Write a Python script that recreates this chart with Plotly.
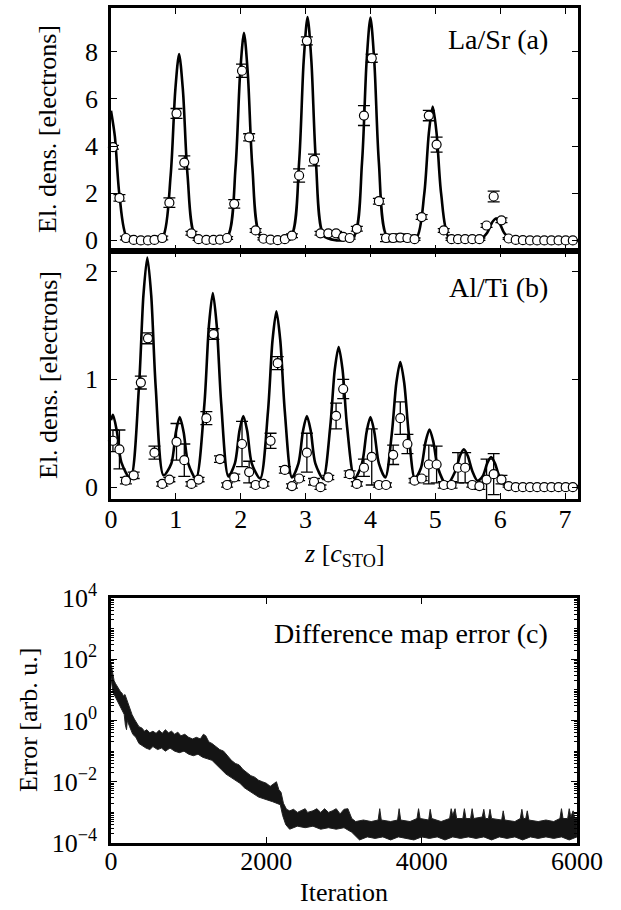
import plotly.graph_objects as go

# ---------------- data ----------------
# common z sampling grid (units of c_STO)
z_pts = [0.03, 0.13, 0.23, 0.35, 0.46, 0.57, 0.67, 0.79, 0.90, 1.01,
         1.13, 1.24, 1.35, 1.47, 1.58, 1.68, 1.79, 1.90, 2.02, 2.13,
         2.23, 2.35, 2.46, 2.57, 2.68, 2.79, 2.90, 3.02, 3.13, 3.23,
         3.35, 3.47, 3.58, 3.68, 3.79, 3.90, 4.02, 4.13, 4.24, 4.35,
         4.46, 4.57, 4.68, 4.79, 4.90, 5.02, 5.13, 5.25, 5.35, 5.46,
         5.57, 5.68, 5.79, 5.90, 6.02, 6.13, 6.24, 6.35, 6.46, 6.57,
         6.68, 6.79, 6.90, 7.01, 7.12]

# (a) La/Sr reconstructed points and error bars
la_vals = [3.95, 1.80, 0.10, 0.02, 0.00, 0.00, 0.02, 0.10, 1.60, 5.38,
           3.30, 0.30, 0.05, 0.02, 0.02, 0.03, 0.10, 1.55, 7.19, 4.37,
           0.42, 0.07, 0.03, 0.01, 0.05, 0.20, 2.75, 8.46, 3.41, 0.30,
           0.30, 0.30, 0.15, 0.10, 0.49, 5.29, 7.72, 1.66, 0.10, 0.10,
           0.12, 0.10, 0.05, 0.99, 5.29, 4.06, 0.42, 0.05, 0.05, 0.05,
           0.05, 0.05, 0.63, 1.86, 0.85, 0.08, 0.02, 0.01, 0.00, 0.00,
           0.00, 0.00, 0.00, 0.00, 0.00]
la_err = [0.08, 0.14, 0.08, 0.05, 0.05, 0.05, 0.05, 0.08, 0.20, 0.21,
          0.28, 0.08, 0.05, 0.05, 0.05, 0.05, 0.06, 0.18, 0.28, 0.15,
          0.08, 0.05, 0.05, 0.05, 0.05, 0.08, 0.28, 0.17, 0.25, 0.08,
          0.08, 0.08, 0.05, 0.05, 0.10, 0.42, 0.17, 0.12, 0.15, 0.15,
          0.15, 0.12, 0.05, 0.10, 0.22, 0.32, 0.08, 0.05, 0.05, 0.05,
          0.05, 0.05, 0.08, 0.23, 0.10, 0.04, 0.03, 0.03, 0.03, 0.03,
          0.03, 0.03, 0.03, 0.03, 0.03]

# (a) La/Sr model curve
la_curve_z = [0.00, 0.06, 0.13, 0.25, 0.45,
              0.65, 0.80, 0.92, 0.99, 1.05, 1.11, 1.18, 1.30, 1.50,
              1.60, 1.80, 1.92, 1.99, 2.05, 2.11, 2.18, 2.30, 2.50,
              2.58, 2.78, 2.90, 2.97, 3.03, 3.09, 3.16, 3.28, 3.48,
              3.55, 3.75, 3.87, 3.94, 4.00, 4.06, 4.13, 4.25, 4.45,
              4.51, 4.71, 4.83, 4.90, 4.96, 5.02, 5.09, 5.21, 5.41,
              5.48, 5.68, 5.80, 5.87, 5.93, 5.99, 6.06, 6.18, 6.38, 7.20]
la_curve_v = [5.50, 4.40, 1.93, 0.11, 0.00,
              0.00, 0.16, 2.77, 6.32, 7.90, 6.32, 2.77, 0.16, 0.00,
              0.00, 0.18, 3.08, 7.04, 8.80, 7.04, 3.08, 0.18, 0.00,
              0.00, 0.19, 3.31, 7.58, 9.47, 7.58, 3.31, 0.19, 0.00,
              0.00, 0.19, 3.30, 7.55, 9.44, 7.55, 3.30, 0.19, 0.00,
              0.00, 0.11, 1.98, 4.54, 5.67, 4.54, 1.98, 0.11, 0.00,
              0.00, 0.02, 0.32, 0.74, 0.92, 0.74, 0.32, 0.02, 0.00, 0.00]

# (b) Al/Ti reconstructed points and error bars
al_vals = [0.43, 0.35, 0.06, 0.11, 0.97, 1.38, 0.32, 0.03, 0.07, 0.42,
           0.25, 0.03, 0.07, 0.64, 1.42, 0.26, 0.02, 0.09, 0.40, 0.14,
           0.02, 0.03, 0.43, 1.15, 0.16, 0.01, 0.08, 0.32, 0.05, 0.00,
           0.09, 0.66, 0.91, 0.12, 0.03, 0.18, 0.28, 0.02, 0.02, 0.30,
           0.64, 0.40, 0.06, 0.08, 0.21, 0.21, 0.02, 0.02, 0.18, 0.18,
           0.02, 0.01, 0.07, 0.12, 0.07, 0.01, 0.00, 0.00, 0.00, 0.00,
           0.00, 0.00, 0.00, 0.00, 0.00]
al_err = [0.10, 0.18, 0.03, 0.03, 0.06, 0.05, 0.06, 0.02, 0.02, 0.17,
          0.15, 0.02, 0.02, 0.06, 0.05, 0.03, 0.02, 0.03, 0.21, 0.10,
          0.02, 0.02, 0.07, 0.06, 0.03, 0.02, 0.02, 0.18, 0.03, 0.02,
          0.02, 0.12, 0.09, 0.03, 0.02, 0.08, 0.26, 0.02, 0.02, 0.09,
          0.15, 0.09, 0.02, 0.02, 0.18, 0.17, 0.03, 0.03, 0.14, 0.14,
          0.02, 0.03, 0.19, 0.19, 0.04, 0.01, 0.01, 0.01, 0.01, 0.01,
          0.01, 0.01, 0.01, 0.01, 0.01]

# (b) Al/Ti model curve
al_curve_z = [0.00, 0.03, 0.09, 0.16, 0.30, 0.43, 0.50, 0.56, 0.62, 0.69,
              0.81, 0.93, 1.00, 1.06, 1.12, 1.19, 1.31, 1.44, 1.51, 1.57,
              1.63, 1.70, 1.81, 1.91, 1.98, 2.04, 2.10, 2.17, 2.30, 2.42,
              2.49, 2.55, 2.61, 2.68, 2.79, 2.89, 2.96, 3.02, 3.08, 3.15,
              3.27, 3.38, 3.45, 3.51, 3.57, 3.64, 3.755, 3.87, 3.94, 4.00,
              4.06, 4.13, 4.23, 4.33, 4.40, 4.46, 4.52, 4.59, 4.685, 4.78,
              4.85, 4.91, 4.97, 5.04, 5.175, 5.31, 5.38, 5.44, 5.50, 5.57,
              5.65, 5.73, 5.80, 5.86, 5.92, 5.99, 6.12, 6.30, 7.20]
al_curve_v = [0.62, 0.67, 0.52, 0.23, 0.08, 0.92, 1.78, 2.13, 1.78, 0.92,
              0.11, 0.22, 0.51, 0.65, 0.51, 0.22, 0.08, 0.77, 1.50, 1.80,
              1.50, 0.77, 0.10, 0.22, 0.52, 0.66, 0.52, 0.22, 0.08, 0.70,
              1.36, 1.63, 1.36, 0.70, 0.09, 0.22, 0.52, 0.66, 0.52, 0.22,
              0.08, 0.56, 1.09, 1.30, 1.09, 0.56, 0.08, 0.22, 0.51, 0.65,
              0.51, 0.22, 0.09, 0.50, 0.97, 1.16, 0.97, 0.50, 0.08, 0.18,
              0.42, 0.535, 0.42, 0.18, 0.02, 0.15, 0.29, 0.35, 0.29, 0.15,
              0.06, 0.10, 0.22, 0.28, 0.22, 0.10, 0.02, 0.01, 0.01]

# (c) difference-map error: upper / lower envelope of the noisy trace (log10 values)
err_up_iter = [0, 10, 25, 40, 60, 80, 100, 120, 140, 160, 180, 200, 220, 240, 270,
               300, 330, 360, 400, 430, 460, 500, 540, 580, 620, 660, 700, 740,
               780, 820, 860, 900, 950, 1000, 1050, 1100, 1150, 1190, 1220, 1260,
               1300, 1350, 1400, 1450, 1500, 1550, 1600, 1650, 1700, 1750, 1800,
               1850, 1900, 1950, 2000, 2050, 2100, 2130, 2160, 2190, 2220, 2260,
               2300, 2350, 2400, 2450, 2500, 2530, 2600, 2650, 2700, 2750, 2800,
               2850, 2900, 2950, 3000, 3050, 3100, 3150, 3250, 3350, 3440, 3460,
               3480, 3600, 3690, 3710, 3730, 3850, 3940, 3960, 3980, 4090, 4110,
               4130, 4250, 4360, 4380, 4400, 4430, 4450, 4530, 4550, 4570, 4630,
               4650, 4670, 4780, 4800, 4820, 4860, 4880, 4900, 5030, 5050, 5070,
               5200, 5270, 5290, 5310, 5340, 5360, 5380, 5500, 5600, 5700, 5780,
               5800, 5820, 5880, 5900, 5920, 5950, 5970, 6000]
err_up_log = [1.85, 1.70, 1.45, 1.30, 1.20, 1.10, 1.05, 0.95, 0.90, 0.80, 0.85, 0.70,
              0.50, 0.35, 0.20, 0.05, -0.10, -0.20, -0.25, -0.35, -0.30, -0.40,
              -0.35, -0.42, -0.32, -0.42, -0.30, -0.40, -0.35, -0.45, -0.38, -0.50,
              -0.45, -0.55, -0.60, -0.55, -0.60, -0.45, -0.50, -0.70, -0.75, -0.85,
              -0.95, -1.00, -1.15, -1.30, -1.40, -1.45, -1.60, -1.70, -1.80, -1.85,
              -1.95, -2.00, -2.05, -2.15, -2.05, -2.00, -2.25, -2.35, -2.70, -2.90,
              -2.95, -2.90, -3.00, -2.95, -2.88, -3.00, -2.95, -2.88, -3.00, -2.88,
              -3.00, -2.95, -2.88, -3.05, -2.90, -2.88, -3.20, -3.30, -3.25, -3.30,
              -3.25, -2.88, -3.25, -3.30, -3.25, -2.88, -3.25, -3.30, -3.20, -2.88,
              -3.20, -3.25, -2.90, -3.20, -3.30, -3.20, -2.88, -3.10, -2.88, -3.20,
              -3.20, -2.88, -3.20, -3.20, -2.88, -3.20, -3.15, -2.90, -3.20, -3.20,
              -2.90, -3.20, -3.25, -2.95, -3.25, -3.30, -3.20, -2.90, -3.20, -3.20,
              -2.95, -3.25, -3.30, -3.25, -3.30, -3.20, -2.88, -3.20, -3.20, -2.88,
              -3.15, -2.95, -3.20, -3.20]
err_lo_iter = [0, 15, 30, 60, 100, 140, 170, 185, 200, 210, 240, 280, 320, 360, 400,
               450, 500, 540, 600, 650, 700, 760, 820, 880, 940, 1000, 1060, 1120,
               1180, 1240, 1300, 1360, 1420, 1480, 1540, 1600, 1660, 1720, 1780,
               1840, 1900, 1960, 2020, 2080, 2140, 2180, 2210, 2250, 2300, 2400,
               2500, 2600, 2700, 2800, 2900, 3000, 3100, 3200, 3300, 3400, 3500,
               3600, 3700, 3800, 3900, 4000, 4100, 4200, 4300, 4400, 4500, 4600,
               4700, 4800, 4900, 5000, 5100, 5200, 5300, 5400, 5500, 5600, 5700,
               5800, 5900, 6000]
err_lo_log = [1.40, 1.10, 0.90, 0.75, 0.50, 0.35, 0.20, -0.15, -0.30, 0.00, -0.20,
              -0.45, -0.55, -0.75, -0.80, -0.90, -0.95, -0.85, -0.95, -0.90, -1.00,
              -0.90, -1.00, -1.05, -1.00, -1.10, -1.15, -1.10, -1.20, -1.25, -1.30,
              -1.45, -1.60, -1.75, -1.85, -1.95, -2.05, -2.20, -2.30, -2.40, -2.50,
              -2.55, -2.60, -2.65, -2.70, -2.75, -3.10, -3.40, -3.55, -3.45, -3.50,
              -3.45, -3.55, -3.50, -3.55, -3.50, -3.65, -3.90, -3.80, -3.85, -3.80,
              -3.90, -3.80, -3.85, -3.90, -3.80, -3.85, -3.80, -3.90, -3.80, -3.85,
              -3.80, -3.85, -3.80, -3.90, -3.80, -3.85, -3.80, -3.90, -3.80, -3.85,
              -3.80, -3.85, -3.80, -3.90, -3.80]

z_ticks = [0, 1, 2, 3, 4, 5, 6, 7]
la_ticks = [0, 2, 4, 6, 8]
al_ticks = [0, 1, 2]
it_ticks = [0, 2000, 4000, 6000]
err_tick_exp = [4, 2, 0, -2, -4]

# ---------------- figure ----------------
FONT = "Liberation Serif"
FS = 26
W, H = 621, 910
xd = [111 / W, 578 / W]
xd3 = [111 / W, 577 / W]
yd_a = [1 - 251 / H, 1 - 8 / H]
yd_b = [1 - 499 / H, 1 - 251 / H]
yd_c = [1 - 843 / H, 1 - 598 / H]

fig = go.Figure()

def pts(x, y, e, xa, ya):
    return go.Scatter(x=x, y=y, mode="markers", xaxis=xa, yaxis=ya,
                      marker=dict(symbol="circle", size=9, color="white",
                                  line=dict(color="black", width=1.2)),
                      error_y=dict(type="data", array=e, visible=True,
                                   color="black", thickness=1.3, width=6),
                      cliponaxis=False, showlegend=False, hoverinfo="skip")

# panel (a)
fig.add_trace(go.Scatter(x=la_curve_z, y=la_curve_v, mode="lines", xaxis="x", yaxis="y",
                         line=dict(color="black", width=2.6, shape="spline", smoothing=0.8),
                         showlegend=False))
fig.add_trace(pts(z_pts, la_vals, la_err, "x", "y"))
# panel (b)
fig.add_trace(go.Scatter(x=al_curve_z, y=al_curve_v, mode="lines", xaxis="x2", yaxis="y2",
                         line=dict(color="black", width=2.6, shape="spline", smoothing=0.8),
                         showlegend=False))
fig.add_trace(pts(z_pts, al_vals, al_err, "x2", "y2"))
# panel (c): band between envelopes
band_x = err_up_iter + err_lo_iter[::-1]
band_y = [10 ** v for v in err_up_log] + [10 ** v for v in err_lo_log[::-1]]
fig.add_trace(go.Scatter(x=band_x, y=band_y, mode="lines", fill="toself",
                         fillcolor="#141414", line=dict(color="#222222", width=1),
                         xaxis="x3", yaxis="y3", showlegend=False))

axis_common = dict(showline=True, linecolor="black", linewidth=2.5, mirror="ticks",
                   ticks="inside", tickcolor="black", tickwidth=1.2, ticklen=6,
                   showgrid=False, zeroline=False, automargin=False,
                   tickfont=dict(family=FONT, size=FS, color="black"))

fig.update_layout(
    width=W, height=H, margin=dict(l=0, r=0, t=0, b=0, autoexpand=False),
    paper_bgcolor="white", plot_bgcolor="white",
    font=dict(family=FONT, size=FS, color="black"),
    xaxis=dict(domain=xd, range=[0, 7.2], anchor="y", tickvals=z_ticks,
               showticklabels=False, **axis_common),
    yaxis=dict(domain=yd_a, range=[-0.45, 9.85], anchor="x", tickvals=la_ticks,
               ticklabelstandoff=5, **axis_common),
    xaxis2=dict(domain=xd, range=[0, 7.2], anchor="y2", tickvals=z_ticks,
                ticklabelstandoff=-5, **axis_common),
    yaxis2=dict(domain=yd_b, range=[-0.11, 2.19], anchor="x2", tickvals=al_ticks,
                ticklabelstandoff=5, **axis_common),
    xaxis3=dict(domain=xd3, range=[0, 6000], anchor="y3", tickvals=it_ticks,
                ticklabelstandoff=-7, **axis_common),
    yaxis3=dict(domain=yd_c, type="log", range=[-4, 4], anchor="x3",
                tickvals=[10 ** k for k in err_tick_exp],
                ticktext=["10<sup>%s</sup>" % (str(k).replace("-", "−")) for k in err_tick_exp],
                ticklabelstandoff=6,
                minor=dict(ticks="inside", ticklen=3.5, tickwidth=1, tickcolor="black",
                           tickvals=[m * 10 ** k for k in range(-4, 4) for m in range(1, 10)]),
                **axis_common),
)

ann = [
    dict(text="La/Sr (a)", x=550 / W, y=1 - 40 / H, xanchor="right", yanchor="middle", size=28),
    dict(text="Al/Ti (b)", x=550 / W, y=1 - 287 / H, xanchor="right", yanchor="middle", size=28),
    dict(text="Difference map error (c)", x=550 / W, y=1 - 633 / H, xanchor="right",
         yanchor="middle", size=28),
    dict(text="El. dens. [electrons]", x=48 / W, y=1 - 129 / H, textangle=-90,
         xanchor="center", yanchor="middle", size=FS),
    dict(text="El. dens. [electrons]", x=48 / W, y=1 - 375 / H, textangle=-90,
         xanchor="center", yanchor="middle", size=FS),
    dict(text="Error [arb. u.]", x=28 / W, y=1 - 720 / H, textangle=-90,
         xanchor="center", yanchor="middle", size=FS),
    dict(text="<i>z</i> [<i>c</i><sub>STO</sub>]", x=344 / W, y=1 - 555 / H,
         xanchor="center", yanchor="middle", size=FS),
    dict(text="Iteration", x=344 / W, y=1 - 892 / H, xanchor="center", yanchor="middle",
         size=FS),
]
for a in ann:
    s = a.pop("size")
    a.update(xref="paper", yref="paper", showarrow=False,
             font=dict(family=FONT, size=s, color="black"))
fig.update_layout(annotations=ann)

fig.write_html("out.html", config={"displayModeBar": False},
               post_script="document.body.style.margin='0';document.body.style.padding='0';")
